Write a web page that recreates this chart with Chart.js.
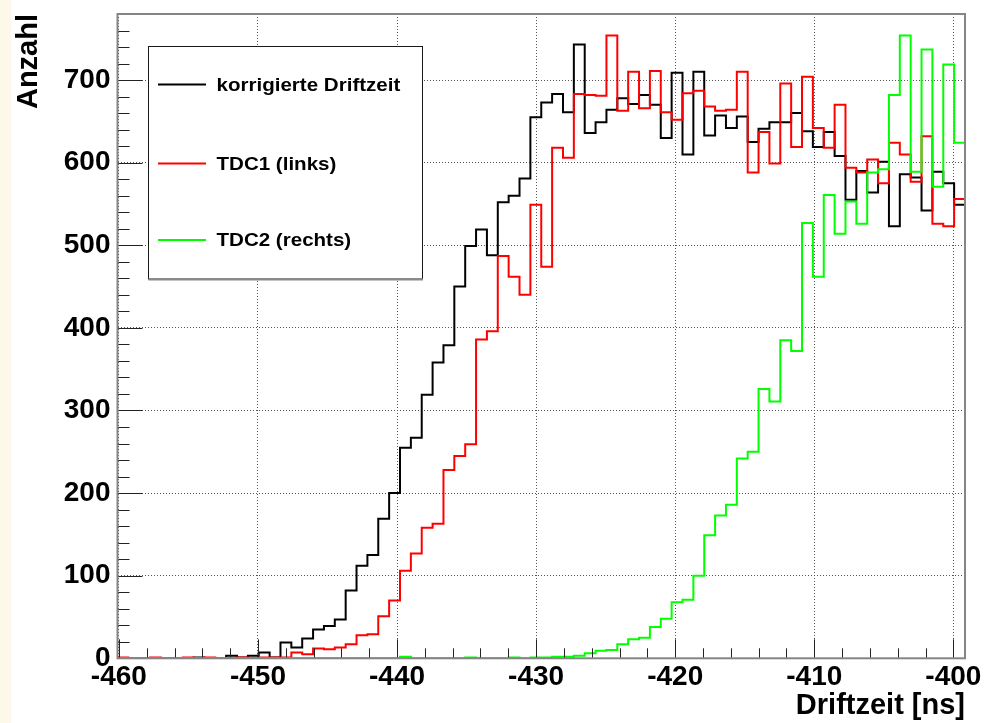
<!DOCTYPE html>
<html>
<head>
<meta charset="utf-8">
<script src="https://cdn.jsdelivr.net/npm/chart.js@4.4.1/dist/chart.umd.min.js"></script>
<style>
  html, body { margin: 0; padding: 0; background: #ffffff; }
  canvas { display: block; }
</style>
</head>
<body>
<canvas id="c" width="989" height="723"></canvas>
<script>
// TDC binning: 78 bins of 0.78125 ns
const binStart = -460.1;
const binWidth = 0.78125;

const xTicks = [-460, -450, -440, -430, -420, -410, -400];
const yTicks = [0, 100, 200, 300, 400, 500, 600, 700];

const seriesNames = ['korrigierte Driftzeit', 'TDC1 (links)', 'TDC2 (rechts)'];

// counts per bin
const korrigiert = [
  0, 0, 0, 0, 0, 0, 0, 1, 0, 0,
  3, 1, 3, 7, 1, 19, 13, 24, 35, 39,
  47, 82, 112, 125, 169, 200, 255, 267, 319, 358,
  379, 450, 499, 519, 488, 552, 560, 581, 655, 673,
  683, 661, 743, 636, 649, 664, 678, 671, 682, 670,
  630, 709, 610, 710, 633, 657, 642, 656, 625, 641,
  649, 649, 660, 638, 619, 637, 608, 555, 590, 564,
  601, 523, 586, 582, 542, 589, 575, 549
];

const tdc1 = [
  1, 0, 0, 1, 0, 0, 1, 0, 1, 0,
  0, 1, 0, 1, 1, 1, 7, 5, 12, 11,
  13, 17, 28, 29, 51, 70, 106, 127, 158, 163,
  228, 245, 259, 386, 396, 487, 462, 440, 549, 474,
  618, 606, 683, 682, 681, 754, 663, 710, 666, 711,
  661, 652, 684, 687, 668, 663, 664, 710, 588, 637,
  599, 696, 619, 704, 642, 618, 670, 594, 588, 604,
  575, 624, 610, 577, 632, 526, 523, 556
];

const tdc2 = [
  0, 0, 0, 0, 0, 0, 0, 0, 0, 0,
  0, 0, 0, 0, 0, 0, 0, 0, 0, 0,
  0, 0, 0, 0, 0, 0, 2, 0, 0, 0,
  0, 0, 1, 0, 0, 0, 1, 0, 1, 1,
  2, 2, 3, 6, 9, 10, 17, 23, 25, 38,
  48, 68, 71, 100, 149, 173, 186, 242, 250, 326,
  311, 385, 372, 527, 462, 561, 514, 553, 526, 588,
  592, 682, 754, 589, 737, 571, 719, 624
];

const colors = ['#000000', '#ff0000', '#00ff00'];

const xMin = binStart;
const xMax = binStart + korrigiert.length * binWidth;

// bin left edges plus closing point at the right edge
function toSteps(values) {
  const pts = values.map((v, i) => ({ x: binStart + i * binWidth, y: v }));
  pts.push({ x: binStart + values.length * binWidth, y: values[values.length - 1] });
  return pts;
}

const FONT = '"Liberation Sans", Arial, Helvetica, sans-serif';

// Frame, inward tick marks, page strip and the boxed legend
const decorations = {
  id: 'decorations',
  beforeDraw(chart) {
    const ctx = chart.ctx;
    ctx.save();
    ctx.fillStyle = '#fdf9ea';
    ctx.fillRect(0, 0, 11, chart.height);
    ctx.restore();
  },
  afterDraw(chart) {
    const ctx = chart.ctx;
    const a = chart.chartArea;
    const xs = chart.scales.x, ys = chart.scales.y;
    ctx.save();

    // tick marks
    ctx.strokeStyle = '#222222';
    ctx.lineWidth = 1;
    ctx.beginPath();
    for (let v = 0; v <= 780; v += 20) {
      const y = Math.round(ys.getPixelForValue(v)) + 0.5;
      const len = v % 100 === 0 ? 25 : 12;
      ctx.moveTo(a.left, y);
      ctx.lineTo(a.left + len, y);
    }
    for (let v = -460; v <= -400; v += 2) {
      const x = Math.round(xs.getPixelForValue(v)) + 0.5;
      const len = v % 10 === 0 ? 19 : 10;
      ctx.moveTo(x, a.bottom);
      ctx.lineTo(x, a.bottom - len);
    }
    ctx.stroke();

    // frame
    ctx.strokeStyle = '#858585';
    ctx.lineWidth = 2;
    ctx.strokeRect(a.left, a.top, a.right - a.left, a.bottom - a.top);

    // legend box
    const L = 148.5, T = 46.5, R = 422.5, B = 279;
    ctx.fillStyle = '#ffffff';
    ctx.fillRect(L, T, R - L, B - T);
    ctx.strokeStyle = '#1a1a1a';
    ctx.lineWidth = 1;
    ctx.strokeRect(L, T, R - L, B - T);
    ctx.strokeStyle = '#8a8a8a';
    ctx.lineWidth = 2;
    ctx.beginPath();
    ctx.moveTo(L, B + 0.5);
    ctx.lineTo(R + 0.5, B + 0.5);
    ctx.stroke();

    const rows = [84.5, 163.5, 240];
    ctx.font = 'bold 18.6px ' + FONT;
    ctx.textBaseline = 'middle';
    ctx.textAlign = 'left';
    seriesNames.forEach((name, i) => {
      ctx.strokeStyle = colors[i];
      ctx.lineWidth = 2;
      ctx.beginPath();
      ctx.moveTo(158, rows[i]);
      ctx.lineTo(206, rows[i]);
      ctx.stroke();
      ctx.save();
      ctx.translate(216.5, rows[i] + 1);
      ctx.scale(1.105, 1);
      ctx.fillStyle = '#000000';
      ctx.fillText(name, 0, 0);
      ctx.restore();
    });

    ctx.restore();
  }
};

const datasets = [
  { label: seriesNames[0], data: toSteps(korrigiert), order: 2 },
  { label: seriesNames[1], data: toSteps(tdc1), order: 1 },
  { label: seriesNames[2], data: toSteps(tdc2), order: 0 }
].map((d, i) => Object.assign(d, {
  borderColor: colors[i],
  backgroundColor: colors[i],
  borderWidth: 2,
  stepped: 'before',
  pointRadius: 0,
  fill: false,
  tension: 0,
  borderJoinStyle: 'miter',
  borderCapStyle: 'butt'
}));

new Chart(document.getElementById('c'), {
  type: 'line',
  data: { datasets },
  options: {
    responsive: false,
    animation: false,
    devicePixelRatio: 1,
    layout: { padding: { top: 14, right: 24, left: 0, bottom: 0 } },
    plugins: {
      legend: { display: false },
      tooltip: { enabled: false },
      title: { display: false }
    },
    scales: {
      x: {
        type: 'linear',
        position: 'bottom',
        min: xMin,
        max: xMax,
        afterBuildTicks: s => { s.ticks = xTicks.map(v => ({ value: v })); },
        afterFit: s => { s.height = 64.7; s.paddingLeft = 0; s.paddingRight = 0; },
        ticks: {
          autoSkip: false,
          maxRotation: 0,
          padding: 2,
          color: '#000000',
          font: { family: FONT, size: 28, weight: 'bold' }
        },
        grid: { color: '#555555', lineWidth: 1, drawTicks: false },
        border: { display: false, dash: [1, 2] },
        title: {
          display: true,
          text: 'Driftzeit [ns]',
          align: 'end',
          color: '#000000',
          padding: { top: 0, bottom: 0 },
          font: { family: FONT, size: 29, weight: 'bold' }
        }
      },
      y: {
        type: 'linear',
        position: 'left',
        min: 0,
        max: 780,
        afterBuildTicks: s => { s.ticks = yTicks.map(v => ({ value: v })); },
        afterFit: s => { s.width = 117.5; s.paddingTop = 0; s.paddingBottom = 0; },
        ticks: {
          padding: 7,
          color: '#000000',
          font: { family: FONT, size: 28, weight: 'bold' }
        },
        grid: { color: '#555555', lineWidth: 1, drawTicks: false },
        border: { display: false, dash: [1, 2] },
        title: {
          display: true,
          text: 'Anzahl',
          align: 'end',
          color: '#000000',
          padding: { top: 12, bottom: 0 },
          font: { family: FONT, size: 29, weight: 'bold' }
        }
      }
    }
  },
  plugins: [decorations]
});
</script>
</body>
</html>
